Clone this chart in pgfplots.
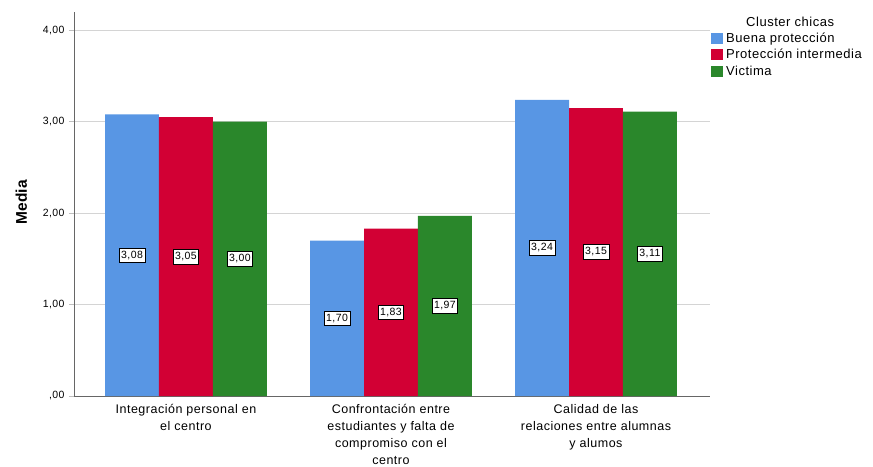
\documentclass[border=0pt]{standalone}
\usepackage{pgfplots}
\pgfplotsset{compat=1.18}
\usepackage{pgfplotstable}
\usepackage{fontspec}
\setmainfont{Liberation Sans}
\newfontfamily\spss[LetterSpace=4]{Liberation Sans}
\definecolor{cblue}{RGB}{88,150,228}
\definecolor{cred}{RGB}{210,0,52}
\definecolor{cgreen}{RGB}{42,135,43}
\pgfplotstableread{
x b r g
0 3.08 3.05 3.00
1 1.70 1.83 1.97
2 3.24 3.15 3.11
}\data
\begin{document}
\begin{tikzpicture}
\useasboundingbox (-74pt,-70pt) rectangle (799pt,396pt);
\begin{axis}[
  at={(0,0)}, anchor=south west,
  scale only axis, width=636pt, height=384pt,
  ymin=0, ymax=4.2, xmin=-0.546, xmax=2.556,
  clip=false,
  axis lines*=left,
  axis line style={draw=black!60, line width=0.8pt, -},
  ytick={0,1,2,3,4},
  yticklabels={{{,}00},{1{,}00},{2{,}00},{3{,}00},{4{,}00}},
  yticklabel style={font=\spss\fontsize{10.5}{12}\selectfont, xshift=-1pt},
  ytick style={draw=black!25, line width=0.8pt},
  tick align=outside, major tick length=5pt, tick pos=left,
  ymajorgrids, grid style={draw=black!17, line width=0.8pt},
  xtick={0,1,2},
  xtick style={draw=none},
  xticklabels={{Integración personal en\\el centro},{Confrontación entre\\estudiantes y falta de\\compromiso con el\\centro},{Calidad de las\\relaciones entre alumnas\\y alumos}},
  xticklabel style={align=center, font=\spss\fontsize{12.5}{17}\selectfont, yshift=0pt},
  ylabel={Media},
  ylabel style={font=\bfseries\fontsize{15.5}{17}\selectfont, at={(axis description cs:-0.083,0.505)}, anchor=center},
  ybar, bar width=0.263,
  legend style={at={(axis description cs:1.0015,0.95)}, anchor=north west, draw=none, fill=none,
     font=\spss\fontsize{13}{15}\selectfont, row sep=3.2pt, inner sep=0pt, nodes={inner ysep=1.2pt, inner xsep=3pt}},
  legend cell align=left,
  legend image code/.code={\fill[#1] (0pt,-5.5pt) rectangle (12pt,5.5pt);},
  every node near coord/.style={draw=black, fill=white, line width=0.7pt, inner xsep=2pt, inner ysep=3pt, font=\spss\fontsize{10.5}{12}\selectfont, anchor=center},
  /pgf/number format/.cd, fixed, fixed zerofill, precision=2, use comma,
]
\addplot[fill=cblue, draw=none, bar shift=-0.263] table[x=x, y=b] {\data};
\addlegendentry{Buena protección}
\addplot[fill=cred, draw=none, bar shift=0] table[x=x, y=r] {\data};
\addlegendentry{Protección intermedia}
\addplot[fill=cgreen, draw=none, bar shift=0.263] table[x=x, y=g] {\data};
\addlegendentry{Victima}
\addplot[forget plot, draw=none, mark=none, sharp plot, nodes near coords={\pgfmathprintnumber[assume math mode=true]{\pgfplotspointmeta}}, point meta=explicit] table[x expr=\thisrow{x}-0.263, y expr=\thisrow{b}/2, meta=b] {\data};
\addplot[forget plot, draw=none, mark=none, sharp plot, nodes near coords={\pgfmathprintnumber[assume math mode=true]{\pgfplotspointmeta}}, point meta=explicit] table[x expr=\thisrow{x}, y expr=\thisrow{r}/2, meta=r] {\data};
\addplot[forget plot, draw=none, mark=none, sharp plot, nodes near coords={\pgfmathprintnumber[assume math mode=true]{\pgfplotspointmeta}}, point meta=explicit] table[x expr=\thisrow{x}+0.263, y expr=\thisrow{g}/2, meta=g] {\data};
\node[font=\spss\fontsize{13}{15}\selectfont] at (axis description cs:1.126,0.974) {Cluster chicas};
\end{axis}
\end{tikzpicture}
\end{document}
